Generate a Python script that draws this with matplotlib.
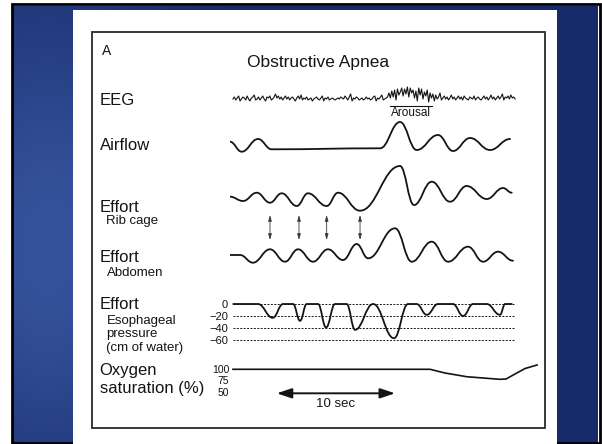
import numpy as np
import matplotlib
matplotlib.use('Agg')
import matplotlib.pyplot as plt
from matplotlib.path import Path
from matplotlib.patches import PathPatch, Rectangle

plt.rcParams['font.family'] = ['Liberation Sans', 'DejaVu Sans']

# ---- data (time in seconds) ----
eeg_vals = [
    0, 2, -1, 1, 3, -2, 0, 2, 1, -1, 3, 0, -2, 1, 2, 4, -1, 0, 2, -1,
    1, 3, 0, -2, 2, 1, 3, -1, 0, 2, 5, 1, 3, 0, 2, -1, 1, 3, 0, 2,
    -1, 1, 2, 0, -2, 1, 3, 0, 4, -1, 1, 0, 2, -1, 0, 1, -2, 0, 1, 2,
    0, -1, 1, 3, -2, 1, 0, 2, -1, 0, 1, 0, -1, 0, 1, 0, 2, 1, 0, 3,
    1, -1, 2, 5, -2, 1, 0, 2, 1, -1, 0, 1, -1, 0, 2, 0, 1, -1, 0, 2,
    3, -2, 1, 0, 2, 4, -1, 0, 1, 2, 6, 1, 8, 2, 9, -1, 10, 4, 7, 11,
    3, 10, 5, 12, 2, 11, 6, 9, 1, 8, -2, 11, 4, 10, 0, 7, 3, 9, -3, 6,
    1, 5, -2, 4, 0, 2, 6, -1, 1, 3, 0, 2, -1, 1, 4, 0, 2, -1, 1, 3,
    0, 2, -1, 3, 1, 0, -1, 2, 1, 0, 3, -1, 1, 2, 0, -1, 1, 3, 0, 2,
    -1, 1, 4, 0, 2, -1, 1, 3, 0, 2, 5, -1, 2, 1, 3, 0, 4, 1, 2, 0,
]
eeg_span = (0.25, 24.1)
arousal_span = (13.52, 17.08)

airflow_t = [0.0, 0.99, 2.37, 3.52, 12.68, 14.37, 15.78, 17.58, 18.85, 20.29, 21.98, 23.67]
airflow_v = [0.76, -0.24, 1.03, 0.0, 0.1, 2.73, -0.07, 1.43, -0.17, 1.13, -0.07, 1.03]

rib_t = [0.0, 1.10, 2.26, 3.38, 4.37, 5.64, 6.59, 8.17, 9.13, 10.99, 14.37, 15.55,
         17.05, 18.60, 20.00, 21.70, 23.08, 23.81]
rib_v = [0.33, -0.10, 0.73, -0.27, 0.67, -0.60, 0.67, -0.60, 0.73, -1.07, 3.40, -0.50,
         1.83, -0.17, 1.40, 0.10, 1.20, 0.73]

abd_t = [0.0, 0.85, 1.94, 3.38, 4.65, 5.75, 7.02, 8.28, 9.55, 10.71, 11.67, 13.95,
         15.36, 17.05, 18.43, 20.12, 21.39, 22.65, 23.92]
abd_v = [0.0, 0.0, -0.77, 0.57, -0.67, 0.57, -0.67, 0.57, -0.50, 1.10, -0.33, 2.67,
         -0.67, 1.33, -0.67, 0.83, -0.67, 0.33, -0.57]

sync_arrow_t = [3.38, 5.83, 8.17, 10.99]

eso_t = [0.28, 2.37, 3.61, 4.48, 5.33, 5.92, 6.48, 7.44, 8.12, 8.88, 9.86, 10.57,
         12.1, 13.86, 15.05, 15.78, 16.63, 17.58, 18.85, 19.70, 20.54, 21.70, 22.82,
         23.25, 23.81]
eso_v = [0, 0, -23, 0, 0, -28, 0, 0, -39, 0, 0, -43,
         0, -57, 0, 0, -18, 0, 0, -20, 0, 0, -18,
         0, 0]
eso_ticks = [0, -20, -40, -60]
eso_labels = ['0', '\u221220', '\u221240', '\u221260']

o2_t = [0.25, 16.91, 18.17, 20.01, 22.82, 23.33, 24.09, 24.94, 25.95]
o2_v = [100, 100, 91.7, 83.4, 77.6, 78.3, 89.5, 101.8, 109.6]
o2_ticks = [100, 75, 50]

scale_bar = (3.95, 13.95)  # 10 sec

INK = '#141414'
W, H = 602, 444
X_MAX = 26.2  # seconds spanned by the track axes


def box(x0, y0, x1, y1):
    return [x0 / W, 1 - y1 / H, (x1 - x0) / W, (y1 - y0) / H]


def fy(y):
    return 1 - y / H


def track(y0, y1, ylo, yhi):
    ax = fig.add_axes(box(230, y0, 540, y1), zorder=2)
    ax.set_xlim(0, X_MAX)
    ax.set_ylim(ylo, yhi)
    ax.patch.set_alpha(0)
    for s in ax.spines.values():
        s.set_visible(False)
    ax.set_xticks([])
    ax.set_yticks([])
    return ax


def smooth(ax, t, v, lw=1.3):
    verts = [(t[0], v[0])]
    codes = [Path.MOVETO]
    for i in range(1, len(t)):
        d = (t[i] - t[i - 1]) * 0.42
        verts += [(t[i - 1] + d, v[i - 1]), (t[i] - d, v[i]), (t[i], v[i])]
        codes += [Path.CURVE4] * 3
    ax.add_patch(PathPatch(Path(verts, codes), fill=False, lw=lw, ec=INK,
                           capstyle='round', joinstyle='round'))


fig = plt.figure(figsize=(W / 100, H / 100), dpi=100, facecolor='white')

# slide background
bg = fig.add_axes(box(13, 6, 598, 444), zorder=-2)
gx, gy = np.meshgrid(np.linspace(0, 1, 300), np.linspace(0, 1, 220))
f = np.exp(-((gx - 0.06) ** 2 / 0.05 + (gy - 0.55) ** 2 / 0.3))
dark = np.array([0x17, 0x2a, 0x6a]) / 255
light = np.array([0x35, 0x53, 0x9c]) / 255
bg.imshow(dark + (light - dark) * f[..., None], aspect='auto', extent=(0, 1, 0, 1))
bg.set_axis_off()
fig.patches.append(Rectangle((11.5 / W, fy(443)), 588 / W, 438.5 / H, transform=fig.transFigure,
                             fill=False, ec='black', lw=2, zorder=-1))
fig.patches.append(Rectangle((73 / W, 0), 484 / W, fy(10), transform=fig.transFigure,
                             fc='white', ec='none', zorder=-1))
fig.patches.append(Rectangle((92 / W, fy(427.5)), 453 / W, 395.5 / H, transform=fig.transFigure,
                             fill=False, ec='#2a2a2a', lw=1.3, zorder=-1))

# labels
fig.text(102 / W, fy(55), 'A', fontsize=10, color=INK)
fig.text(318.5 / W, fy(67), 'Obstructive Apnea', fontsize=12.5, color=INK, ha='center')
main = [('EEG', 105), ('Airflow', 150), ('Effort', 212), ('Effort', 262), ('Effort', 309)]
for s, yb in main:
    fig.text(99.5 / W, fy(yb), s, fontsize=12, color=INK)
sub = [('Rib cage', 224), ('Abdomen', 276), ('Esophageal', 324), ('pressure', 337),
       ('(cm of water)', 351)]
for s, yb in sub:
    fig.text(106.5 / W, fy(yb), s, fontsize=9.5, color=INK)
fig.text(99.5 / W, fy(375), 'Oxygen', fontsize=12, color=INK)
fig.text(99.5 / W, fy(393), 'saturation (%)', fontsize=12, color=INK)

# EEG
ax = track(78, 118, -19, 21)
ax.plot(np.linspace(eeg_span[0], eeg_span[1], len(eeg_vals)), eeg_vals, color=INK, lw=0.8)
ax.plot(arousal_span, [-7.5, -7.5], color=INK, lw=0.8, clip_on=False)
ax.text(sum(arousal_span) / 2, -14.5, 'Arousal', fontsize=8.5, color=INK,
        ha='center', va='center', clip_on=False)

# Airflow
ax = track(112, 180, -3.07, 3.73)
smooth(ax, airflow_t, airflow_v)

# Effort: rib cage
ax = track(160, 215, -1.5, 4.0)
smooth(ax, rib_t, rib_v)

# Effort: abdomen
ax = track(215, 272, -1.7, 4.0)
smooth(ax, abd_t, abd_v)
for t in sync_arrow_t:
    ax.annotate('', xy=(t, 1.5), xytext=(t, 4.0), annotation_clip=False,
                arrowprops=dict(arrowstyle='<|-|>,head_length=0.35,head_width=0.1',
                                lw=0.6, color='#3a3a3a', shrinkA=0, shrinkB=0))

# Effort: esophageal pressure
ax = track(295, 345, -68.3, 15)
ax.hlines(eso_ticks, 0.25, 24.1, color=INK, lw=0.7, linestyles=(0, (2, 1.5)))
smooth(ax, eso_t, eso_v)
ax.set_yticks(eso_ticks)
ax.set_yticklabels(eso_labels, fontsize=8, color=INK)
ax.tick_params(axis='y', length=0, pad=1.5)

# Oxygen saturation
ax = track(360, 412, 4.5, 120.8)
ax.plot(o2_t, o2_v, color=INK, lw=1.2)
ax.set_yticks(o2_ticks)
ax.set_yticklabels([str(v) for v in o2_ticks], fontsize=7.5, color=INK)
ax.tick_params(axis='y', length=0, pad=0.5)
ax.annotate('', xy=(scale_bar[0], 46.3), xytext=(scale_bar[1], 46.3), annotation_clip=False,
            arrowprops=dict(arrowstyle='<|-|>,head_length=0.9,head_width=0.3',
                            lw=1.4, color=INK, shrinkA=0, shrinkB=0))
ax.text(sum(scale_bar) / 2, 22.4, '10 sec', fontsize=9.5, color=INK,
        ha='center', va='center', clip_on=False)

fig.savefig('out.png', dpi=100, facecolor='white')
